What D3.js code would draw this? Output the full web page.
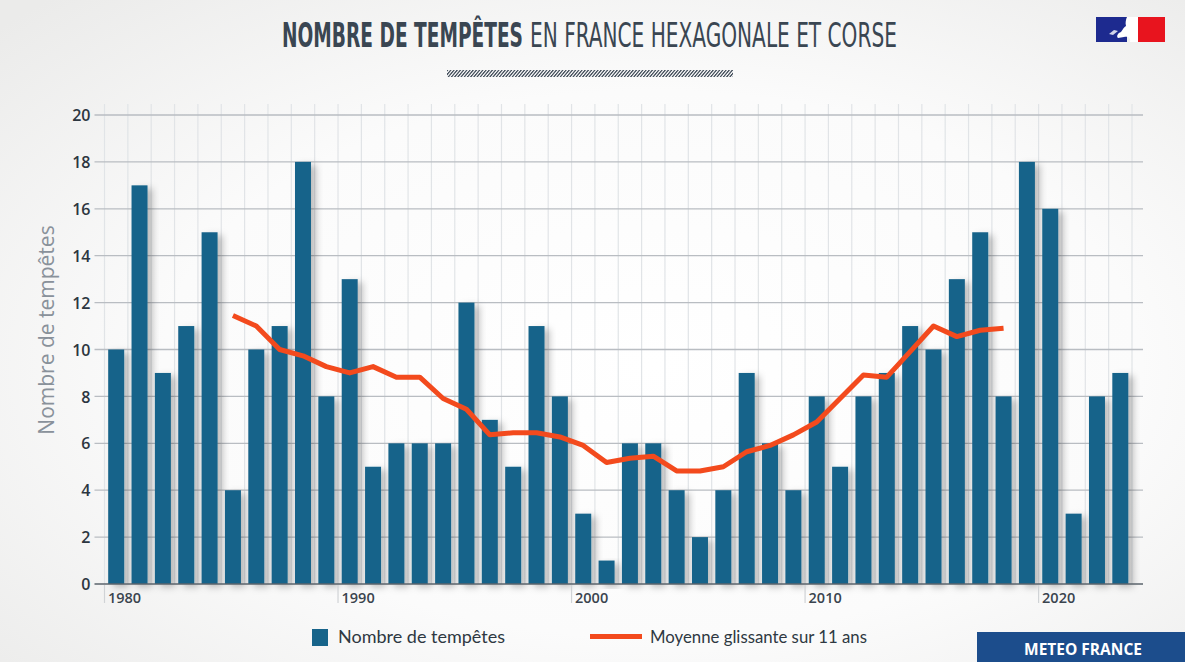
<!DOCTYPE html>
<html><head><meta charset="utf-8">
<script src="https://cdn.jsdelivr.net/npm/d3@7/dist/d3.min.js"></script>
<style>
html,body{margin:0;padding:0;background:#f3f3f2;}
svg{display:block;}
</style></head>
<body>
<svg id="chart" width="1185" height="662"></svg>
<script>
// ---- data ----
const years = d3.range(1980, 2024);
const storms = [10,17,9,11,15,4,10,11,18,8,13,5,6,6,6,12,7,5,11,8,3,1,6,6,4,2,4,9,6,4,8,5,8,9,11,10,13,15,8,18,16,3,8,9];
const maYears = d3.range(1985, 2019);
const movingAvg = [11.45,11.0,10.0,9.73,9.27,9.0,9.27,8.82,8.82,7.91,7.45,6.36,6.45,6.45,6.27,5.91,5.18,5.36,5.45,4.82,4.82,5.0,5.64,5.91,6.36,6.91,7.91,8.91,8.82,9.91,11.0,10.55,10.82,10.91];
const yTicks = [0,2,4,6,8,10,12,14,16,18,20];
const xTickYears = [1980,1990,2000,2010,2020];
const titleBold = "NOMBRE DE TEMPÊTES";
const titleLight = "EN FRANCE HEXAGONALE ET CORSE";
const yLabel = "Nombre de tempêtes";
const legendBars = "Nombre de tempêtes";
const legendLine = "Moyenne glissante sur 11 ans";
const brand = "METEO FRANCE";

(function(){
const svg = d3.select("#chart");
const W = 1185, H = 662;
const defs = svg.append("defs");

// background gradient
const rg = defs.append("radialGradient").attr("id","bg")
  .attr("cx","55%").attr("cy","55%").attr("r","75%");
rg.append("stop").attr("offset","0%").attr("stop-color","#ffffff");
rg.append("stop").attr("offset","55%").attr("stop-color","#fbfbfb");
rg.append("stop").attr("offset","100%").attr("stop-color","#ebebea");
svg.append("rect").attr("width",W).attr("height",H).attr("fill","url(#bg)");

// shadow
const f = defs.append("filter").attr("id","sh").attr("x","-30%").attr("y","-10%").attr("width","200%").attr("height","130%");
f.append("feDropShadow").attr("dx",5).attr("dy",3).attr("stdDeviation",3.5)
  .attr("flood-color","#000").attr("flood-opacity",0.25);

// hatch pattern
const pat = defs.append("pattern").attr("id","hatch").attr("patternUnits","userSpaceOnUse")
  .attr("width",3.2).attr("height",8).attr("patternTransform","skewX(-40)");
pat.append("rect").attr("width",1.7).attr("height",8).attr("fill","#4a5561");

// ---- scales ----
const pLeft = 104.5, pRight = 1132, pBottom = 584, pTop = 115;
const p = 0.315;
const x = d3.scaleBand().domain(years).range([pLeft, pRight]).paddingInner(p).paddingOuter(p/2);
const step = x.step();
const slot = yr => x(yr) - (step - x.bandwidth())/2;
const y = d3.scaleLinear().domain([0,20]).range([pBottom, pTop]);

// vertical grid
const g = svg.append("g");
g.selectAll("line.vg").data(years.concat([2024])).join("line")
  .attr("x1", d => d===2024 ? pRight : slot(d)).attr("x2", d => d===2024 ? pRight : slot(d))
  .attr("y1", 104).attr("y2", pBottom)
  .attr("stroke","#e1e4e7").attr("stroke-width",1.2);

// y axis with gridlines
const yAxis = d3.axisLeft(y).tickValues(yTicks).tickSize(0).tickPadding(0);
const ya = svg.append("g").attr("transform",`translate(${pLeft-10},0)`).call(yAxis);
ya.select(".domain").remove();
ya.selectAll(".tick text").attr("x",-4).attr("dy","0.35em")
  .style("font-family","'Open Sans', sans-serif").style("font-weight",600)
  .style("font-size","16px").attr("fill","#2c3640");
g.selectAll("line.hg").data(yTicks.filter(d=>d>0)).join("line")
  .attr("x1", pLeft-10).attr("x2", 1143)
  .attr("y1", d=>y(d)).attr("y2", d=>y(d))
  .attr("stroke","#b9bdc2").attr("stroke-width",1.3);

// bars
svg.append("g").selectAll("rect").data(years).join("rect")
  .attr("x", d => x(d)).attr("width", x.bandwidth())
  .attr("y", (d,i) => y(storms[i])).attr("height", (d,i) => pBottom - y(storms[i]))
  .attr("fill","#17648a").attr("filter","url(#sh)");

// x axis
svg.append("line").attr("x1", pLeft-10).attr("x2", 1143).attr("y1", pBottom).attr("y2", pBottom)
  .attr("stroke","#5a636b").attr("stroke-width",1.5);
const xa = svg.append("g");
xa.selectAll("line").data(xTickYears).join("line")
  .attr("x1", d=>slot(d)).attr("x2", d=>slot(d)).attr("y1", pBottom+1).attr("y2", pBottom+19)
  .attr("stroke","#d0d3d6").attr("stroke-width",1.2);
xa.selectAll("text").data(xTickYears).join("text")
  .attr("x", d=>slot(d)+3.5).attr("y", pBottom+18.5)
  .text(d=>d)
  .style("font-family","'Open Sans', sans-serif").style("font-weight",600)
  .style("font-size","14.5px").attr("fill","#3a444e");

// moving average line
const line = d3.line().x(d => x(d[0]) + x.bandwidth()/2).y(d => y(d[1]));
svg.append("path").datum(maYears.map((yr,i)=>[yr, movingAvg[i]]))
  .attr("d", line).attr("fill","none").attr("stroke","#f34a1d")
  .attr("stroke-width",5).attr("stroke-linejoin","round").attr("stroke-linecap","butt");

// y label
svg.append("text").attr("transform","translate(54,330) rotate(-90)")
  .attr("text-anchor","middle").text(yLabel)
  .style("font-family","'Open Sans', sans-serif").style("font-size","21px").attr("fill","#89919a");

// title: two texts, each horizontally scaled to the reference width
const tf = "'Liberation Sans Narrow','DejaVu Sans Condensed',sans-serif";
function condensed(txt, x0, target, weight){
  const gg = svg.append("g");
  const t = gg.append("text").attr("x",0).attr("y",0).text(txt)
    .style("font-family",tf).style("font-size","34px").style("font-weight",weight).attr("fill","#3a4652");
  const w = t.node().getComputedTextLength();
  gg.attr("transform",`translate(${x0},47) scale(${(target/w).toFixed(4)},1)`);
}
condensed(titleBold, 282, 241, 700);
condensed(titleLight, 530, 367, 400);
svg.append("rect").attr("x",447).attr("y",70).attr("width",286).attr("height",7).attr("fill","url(#hatch)");

// logo
const lg = svg.append("g");
lg.append("rect").attr("x",1096).attr("y",17).attr("width",31).attr("height",25).attr("fill","#1d2a8f");
lg.append("rect").attr("x",1138).attr("y",17).attr("width",27).attr("height",25).attr("fill","#e8141e");
lg.append("path").attr("d","M1127,17 L1138,17 L1138,42 L1130,42 C1131,38 1128,36 1124,37 L1118,38 C1116,36 1118,33 1121,32 C1123,29 1124,27 1126,26 C1125,23 1126,19 1127,17 Z").attr("fill","#ffffff");
lg.append("path").attr("d","M1109,34 L1114,30 L1118,31 L1113,35 Z").attr("fill","#ffffff").attr("opacity",0.8);

// legend
const leg = svg.append("g").style("font-family","'Lato', 'Open Sans', sans-serif").style("font-size","16.5px");
leg.append("rect").attr("x",312).attr("y",629).attr("width",16).attr("height",17).attr("fill","#17648a");
leg.append("text").attr("x",338).attr("y",643).text(legendBars).attr("fill","#2e3842")
  .attr("textLength",167).attr("lengthAdjust","spacingAndGlyphs");
leg.append("line").attr("x1",590).attr("x2",642).attr("y1",636.5).attr("y2",636.5).attr("stroke","#f34a1d").attr("stroke-width",5);
leg.append("text").attr("x",650).attr("y",643).text(legendLine).attr("fill","#2e3842")
  .attr("textLength",217).attr("lengthAdjust","spacingAndGlyphs");

// brand box
svg.append("rect").attr("x",977).attr("y",632).attr("width",208).attr("height",30).attr("fill","#1c4d8c");
svg.append("text").attr("x",1083).attr("y",655).attr("text-anchor","middle").text(brand)
  .style("font-family","'Open Sans', sans-serif").style("font-weight",700).style("font-size","15.5px")
  .attr("fill","#ffffff");
})();
</script>
</body></html>
